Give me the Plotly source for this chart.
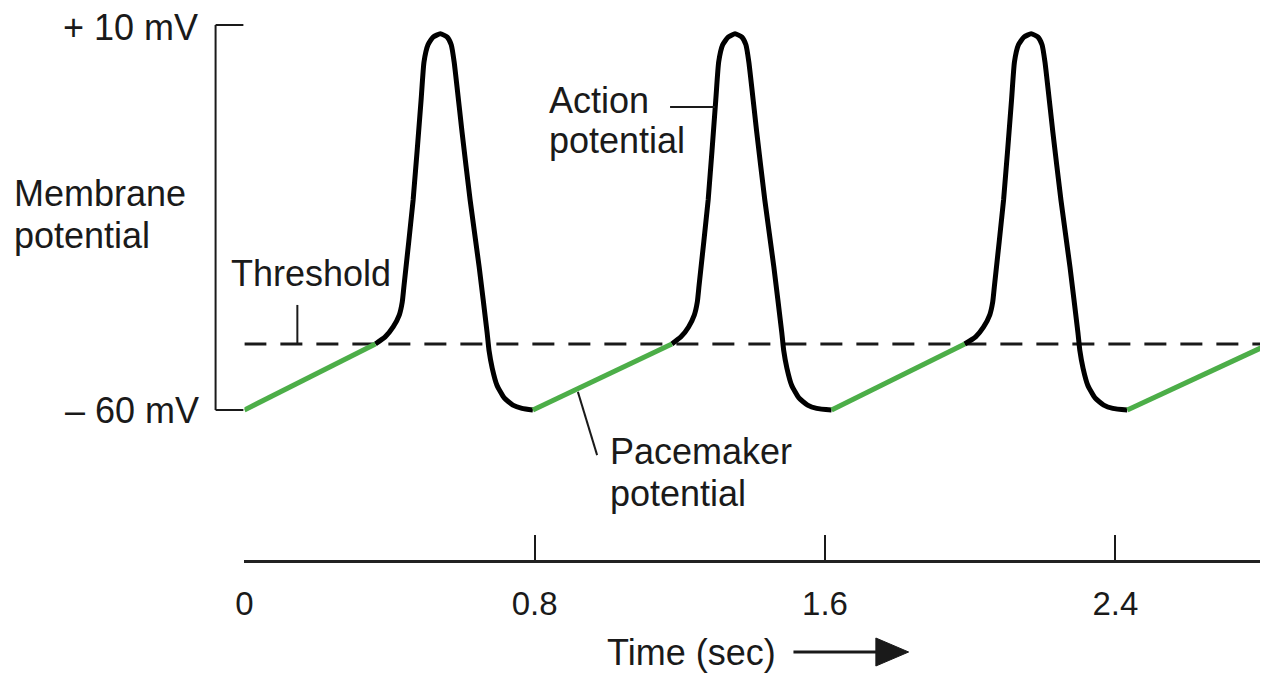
import plotly.graph_objects as go

W, H = 1268, 674
OX, OY = 15, 8  # where the page places the figure
FONT = "Arial, Liberation Sans, sans-serif"
INK = "#1a1a1a"
GREEN = "#4cae48"

# time (sec) and membrane potential (mV)
threshold_mv = -48
time_ticks = [0, 0.8, 1.6, 2.4]
time_labels = ["0", "0.8", "1.6", "2.4"]
mv_ticks = [10, -60]
mv_labels = ["+ 10 mV", "\u2013 60 mV"]

# pacemaker ramps (green), separated by gaps
pace_t = [0, 0.361, None, 0.795, 1.178, None, 1.618, 1.985, None, 2.433, 2.818]
pace_v = [-60, -48, None, -60, -48, None, -60, -48, None, -60, -48.2]

# action potentials (black)
ap1_t = [0.361, 0.388, 0.410, 0.427, 0.435, 0.440, 0.465, 0.487, 0.495, 0.506, 0.520, 0.540, 0.559,
         0.570, 0.578, 0.600, 0.622, 0.647, 0.669, 0.674, 0.683, 0.696, 0.716, 0.740, 0.765, 0.795]
ap1_v = [-48, -46.7, -44.9, -42.7, -40.4, -37.3, -21.8, -3.6, 3.3, 6.4, 7.8, 8.4, 7.8,
         6.4, 3.3, -9.6, -21.8, -34, -46, -49.1, -52.4, -55.5, -57.8, -59.1, -59.7, -60]
ap2_t = [1.178, 1.203, 1.224, 1.240, 1.248, 1.253, 1.278, 1.299, 1.307, 1.318, 1.333, 1.352, 1.371,
         1.382, 1.390, 1.412, 1.434, 1.459, 1.481, 1.486, 1.495, 1.508, 1.528, 1.552, 1.577, 1.618]
ap2_v = ap1_v
ap3_t = [1.985, 2.015, 2.037, 2.054, 2.062, 2.067, 2.092, 2.114, 2.122, 2.133, 2.148, 2.168, 2.187,
         2.198, 2.206, 2.228, 2.250, 2.275, 2.297, 2.302, 2.311, 2.324, 2.344, 2.368, 2.393, 2.433]
ap3_v = ap1_v

PX_PER_SEC = 365.5
PX_PER_MV = 5.5
T_MAX = (W + OX - 244) / PX_PER_SEC
V_TOP = -60 + (410 - OY) / PX_PER_MV
V_BOT = -60 - (H + OY - 410) / PX_PER_MV


def px(x):
    return (x - OX) / W


def py(y):
    return 1 - (y - OY) / H


fig = go.Figure()

fig.add_trace(go.Scatter(x=[0, T_MAX], y=[threshold_mv, threshold_mv], mode="lines",
                         line=dict(color=INK, width=3, dash="22px,14px"), hoverinfo="skip"))

ap_t = ap1_t + [None] + ap2_t + [None] + ap3_t
ap_v = ap1_v + [None] + ap2_v + [None] + ap3_v
fig.add_trace(go.Scatter(x=ap_t, y=ap_v, mode="lines", connectgaps=False,
                         line=dict(color="black", width=5, shape="spline", smoothing=0.5)))
fig.add_trace(go.Scatter(x=pace_t, y=pace_v, mode="lines", connectgaps=False,
                         line=dict(color=GREEN, width=5)))

# membrane potential bracket
shapes = [
    dict(type="line", xref="paper", yref="y", x0=px(215), x1=px(215), y0=mv_ticks[1], y1=mv_ticks[0]),
    dict(type="line", xref="paper", yref="y", x0=px(215), x1=px(243), y0=mv_ticks[0], y1=mv_ticks[0]),
    dict(type="line", xref="paper", yref="y", x0=px(215), x1=px(243), y0=mv_ticks[1], y1=mv_ticks[1]),
    # leader lines
    dict(type="line", xref="x", yref="y", x0=0.146, x1=0.146, y0=threshold_mv, y1=-40.9),
    dict(type="line", xref="x", yref="y", x0=1.173, x1=1.297, y0=-4.9, y1=-4.9),
    dict(type="line", xref="x", yref="y", x0=0.919, x1=0.972, y0=-56.7, y1=-68.2),
    # time arrow
    dict(type="line", xref="paper", yref="paper", x0=px(797), x1=px(885), y0=py(652), y1=py(652),
         line=dict(color=INK, width=3)),
    dict(type="path", xref="paper", yref="paper", fillcolor=INK, line=dict(color=INK, width=1),
         path=f"M{px(880)},{py(638)} L{px(913)},{py(652)} L{px(880)},{py(666)} Z"),
]
for s in shapes[:6]:
    s["line"] = dict(color=INK, width=2)
fig.update_layout(shapes=shapes)

labels = [
    (mv_labels[0], 199, 27, "right"),
    (mv_labels[1], 200, 410, "right"),
    ("Membrane", 10, 193, "left"),
    ("potential", 10, 235, "left"),
    ("Threshold", 229, 273, "left"),
    ("Action", 549, 101, "left"),
    ("potential", 549, 140, "left"),
    ("Pacemaker", 610, 451, "left"),
    ("potential", 610, 493, "left"),
    ("Time (sec)", 607, 652, "left"),
]
for text, x, y, anchor in labels:
    fig.add_annotation(text=text, x=px(x), y=py(y), xref="paper", yref="paper",
                       xanchor=anchor, yanchor="middle", showarrow=False,
                       font=dict(family=FONT, size=36, color=INK))

fig.update_layout(
    width=W, height=H,
    margin=dict(l=0, r=0, t=0, b=0),
    paper_bgcolor="white", plot_bgcolor="white",
    showlegend=False,
    xaxis=dict(domain=[px(244), 1], range=[0, T_MAX], anchor="free", position=py(561),
               showline=True, linecolor="#222", linewidth=3, showgrid=False, zeroline=False,
               ticks="inside", ticklen=25, tickwidth=2, tickcolor=INK,
               tickvals=time_ticks, ticktext=time_labels, ticklabelstandoff=12,
               tickfont=dict(family=FONT, size=33, color=INK), fixedrange=True),
    yaxis=dict(domain=[0, 1], range=[V_BOT, V_TOP], visible=False, fixedrange=True),
)

fig.write_html("out.html")
